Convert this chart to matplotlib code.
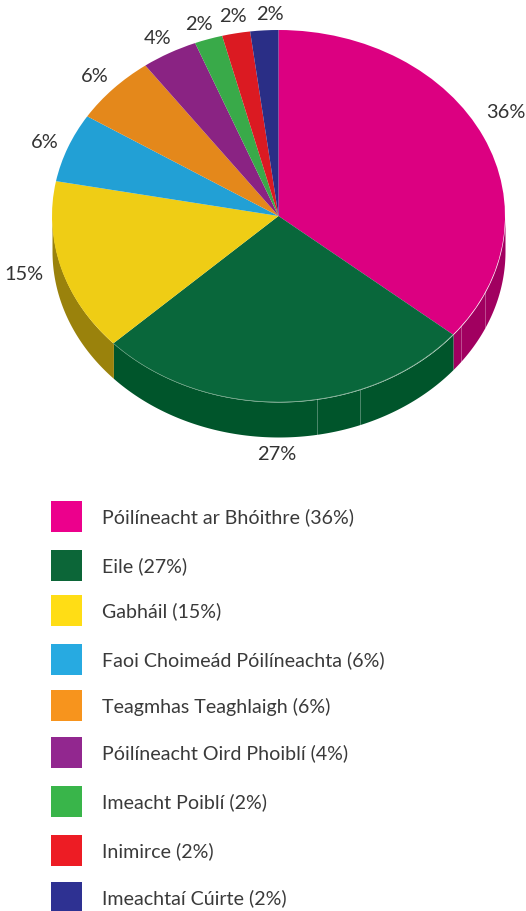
import numpy as np
import matplotlib
matplotlib.use('Agg')
import matplotlib.pyplot as plt
from matplotlib.patches import Rectangle

plt.rcParams['font.family'] = ['Lato', 'DejaVu Sans']

W, H = 526, 911

categories = ['Póilíneacht ar Bhóithre', 'Eile', 'Gabháil', 'Faoi Choimeád Póilíneachta',
              'Teagmhas Teaghlaigh', 'Póilíneacht Oird Phoiblí', 'Imeacht Poiblí', 'Inimirce',
              'Imeachtaí Cúirte']
values = [36, 27, 15, 6, 6, 4, 2, 2, 2]
top_colors = ['#dc0081', '#09673b', '#efcd15', '#22a0d5', '#e4881b', '#8a2383', '#39aa49', '#db1a22', '#2a2e86']
side_colors = ['#a10060', '#00552b', '#9a820c', '#1a7ba5', '#b06a14', '#6a1b65', '#2b8338', '#a8141a', '#202366']
legend_colors = ['#ec008c', '#0c6638', '#ffdd15', '#27aae1', '#f7941d', '#92278f', '#39b54a', '#ed1c24', '#2e3192']
legend_tops = [501, 550, 595, 644, 690, 737, 786, 835, 882]

# pixel positions of the percent labels (centre)
label_xy = [(506, 113), (277, 454), (24, 274), (45, 142), (95, 76), (158, 38), (199, 24), (233, 17), (270, 15)]

# seams on the side wall, as x pixel
seam_x = [317, 360, 461, 485]

fig = plt.figure(figsize=(W / 100, H / 100), dpi=100)

# pixel overlay for text and legend
bg = fig.add_axes([0, 0, 1, 1])
bg.set_xlim(0, W)
bg.set_ylim(H, 0)
bg.axis('off')

# pie axes sits exactly on the top ellipse, no equal aspect -> squashed pie
cx, cy, rx, ry, depth = 278.5, 216, 226.5, 186, 35
ax = fig.add_axes([(cx - rx) / W, 1 - (cy + ry) / H, 2 * rx / W, 2 * ry / H])
ax.patch.set_alpha(0)
d = depth / ry

edges = np.cumsum([0] + values) / sum(values) * 2 * np.pi  # clockwise from top
for i in range(len(values)):
    a0, a1 = max(edges[i], np.pi / 2), min(edges[i + 1], 3 * np.pi / 2)
    if a1 <= a0:
        continue
    t = np.linspace(a0, a1, 120)
    x, y = np.sin(t), np.cos(t)
    ax.fill_between(x, y, y - d, color=side_colors[i], lw=0, clip_on=False, zorder=1)

wedges, _ = ax.pie(values, colors=top_colors, startangle=90, counterclock=False, radius=1,
                   wedgeprops={'linewidth': 0}, frame=False)
for w in wedges:
    w.set_clip_on(False)
    w.set_zorder(2)
ax.set_aspect('auto')
ax.set_xlim(-1, 1)
ax.set_ylim(-1, 1)
ax.axis('off')

# thin light rim and seams
t = np.linspace(edges[1], edges[2], 200)
ax.plot(np.sin(t), np.cos(t), color='#5f9a78', lw=0.4, zorder=3, clip_on=False)
for sx in seam_x:
    x = (sx - cx) / rx
    y = -np.sqrt(1 - x ** 2)
    ax.plot([x, x], [y, y - d], color='#ffffff', alpha=0.3, lw=0.7, zorder=3, clip_on=False)

for (lx, ly), v in zip(label_xy, values):
    bg.text(lx, ly, f'{v}%', ha='center', va='center', fontsize=14.4, color='#333333')

for name, v, col, top in zip(categories, values, legend_colors, legend_tops):
    bg.add_patch(Rectangle((51, top), 31, 31, color=col, lw=0))
    bg.text(102, top + 16.5, f'{name} ({v}%)', ha='left', va='center', fontsize=14.15, color='#3a3a3a')

fig.savefig('out.png', dpi=100)
